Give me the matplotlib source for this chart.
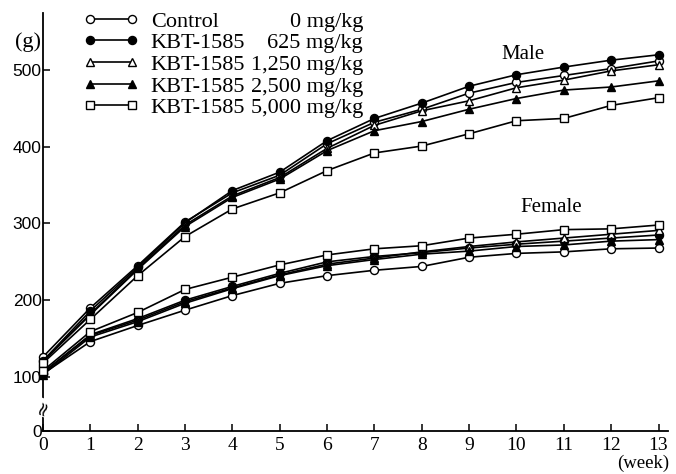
import matplotlib
matplotlib.use('Agg')
import matplotlib.pyplot as plt

# weeks on x
weeks = list(range(0, 14))

groups = ['Control', 'KBT-1585', 'KBT-1585', 'KBT-1585', 'KBT-1585']
doses = ['0 mg/kg', '625 mg/kg', '1,250 mg/kg', '2,500 mg/kg', '5,000 mg/kg']

# body weight (g)
male_ctrl = [126, 190, 245, 302, 340, 363, 404, 432, 449, 470, 484, 493, 502, 512]
male_625 = [121, 186, 243, 301, 343, 367, 408, 437, 457, 479, 494, 504, 513, 520]
male_1250 = [121, 182, 241, 298, 336, 360, 398, 428, 447, 460, 477, 487, 499, 507]
male_2500 = [120, 181, 240, 296, 334, 358, 395, 421, 433, 449, 463, 474, 478, 486]
male_5000 = [118, 175, 232, 283, 319, 340, 369, 392, 401, 417, 434, 437, 454, 464]

female_ctrl = [104, 146, 167, 187, 206, 222, 232, 239, 244, 256, 261, 263, 267, 268]
female_625 = [105, 155, 176, 200, 218, 235, 250, 257, 262, 268, 273, 277, 281, 285]
female_1250 = [106, 154, 174, 198, 216, 233, 247, 255, 263, 270, 276, 281, 286, 291]
female_2500 = [103, 152, 172, 196, 215, 232, 245, 253, 260, 264, 270, 272, 277, 279]
female_5000 = [108, 159, 184, 214, 230, 246, 259, 267, 271, 281, 286, 292, 293, 298]

male = [male_ctrl, male_625, male_1250, male_2500, male_5000]
female = [female_ctrl, female_625, female_1250, female_2500, female_5000]

ytick_vals = [100, 200, 300, 400, 500]
Y_BOTTOM = 29.4   # where "0" sits (axis is broken below 100)
Y_TOP = 574.5

# marker styles: open circle, filled circle, open tri, filled tri, open square
styles = [('o', 'white'), ('o', 'black'), ('^', 'white'), ('^', 'black'), ('s', 'white')]

serif = 'Liberation Serif'

fig = plt.figure(figsize=(6.76, 4.74), dpi=100)
ax = fig.add_axes([43/676, (474-431)/474, (668-43)/676, (431-13)/474])

handles = []
for i in range(5):
    mk, fc = styles[i]
    for data in (male[i], female[i]):
        ln, = ax.plot(weeks, data, color='black', lw=1.2, marker=mk, ms=5.8,
                      mfc=fc, mec='black', mew=1.0, clip_on=False, zorder=3)
    handles.append(ln)

ax.set_xlim(0, 13.2)
ax.set_ylim(Y_BOTTOM, Y_TOP)
ax.set_xticks(weeks)
ax.set_xticklabels([str(w) for w in weeks], fontfamily=serif, fontsize=14)
ax.set_yticks([Y_BOTTOM] + ytick_vals)
ax.set_yticklabels(['0'] + [str(v) for v in ytick_vals], fontfamily='Liberation Sans', fontsize=12.5)
ax.tick_params(axis='both', direction='in', length=5, width=1.1)
ax.tick_params(axis='x', pad=4)
ax.tick_params(axis='y', pad=1)
for s in ['top', 'right']:
    ax.spines[s].set_visible(False)
for s in ['left', 'bottom']:
    ax.spines[s].set_linewidth(1.3)

# axis break mark
ax.text(0, 60, '≈', fontsize=14, ha='center', va='center', rotation=70,
        bbox=dict(fc='white', ec='none', pad=0.5), zorder=5)

ax.text(10.13, 520, 'Male', fontfamily=serif, fontsize=15, ha='center', va='center')
ax.text(10.74, 321, 'Female', fontfamily=serif, fontsize=15, ha='center', va='center')

fig.text(28/676, 1 - 42/474, '(g)', fontfamily=serif, fontsize=16, ha='center', va='center')
fig.text(643/676, 1 - 463/474, '(week)', fontfamily=serif, fontsize=13.5, ha='center', va='center')

leg = fig.legend(handles, groups, loc='upper left', bbox_to_anchor=(83/676, 1 - 11/474),
                 frameon=False, numpoints=2, handlelength=2.5, handletextpad=0.55,
                 borderpad=0, borderaxespad=0, labelspacing=0.05,
                 prop={'family': serif, 'size': 16})

# dose column, right aligned, lined up with the legend rows
fig.canvas.draw()
inv = fig.transFigure.inverted()
for t, d in zip(leg.get_texts(), doses):
    bb = t.get_window_extent()
    yc = inv.transform((0, (bb.y0 + bb.y1) / 2))[1]
    fig.text(363/676, yc, d, fontfamily=serif, fontsize=16, ha='right', va='center')

fig.savefig('out.png', dpi=100)
